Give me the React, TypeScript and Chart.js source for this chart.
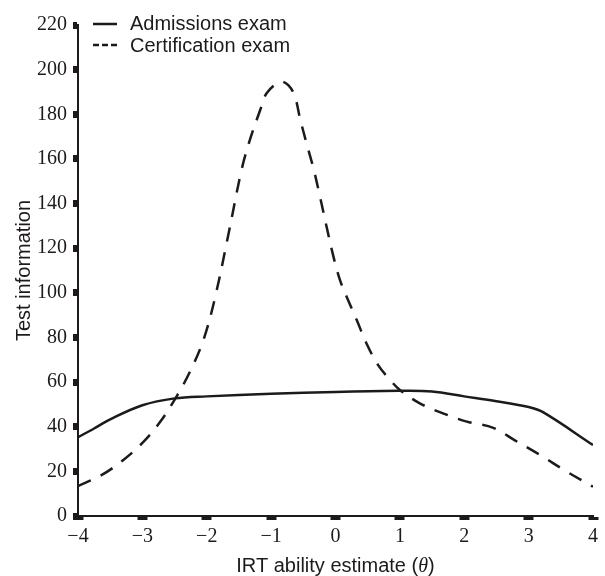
import React, { useEffect, useRef } from 'react';
import { Chart, registerables } from 'chart.js';

Chart.register(...registerables);

// ---- data ----
const seriesLabels = ['Admissions exam', 'Certification exam'];

const admissionsTheta = [-4, -3.75, -3.5, -3, -2.5, -2, -1, 0, 1, 1.5, 2, 2.5, 3, 3.23, 4];
const admissionsInfo = [35.3, 39.2, 43.3, 49.6, 52.7, 53.6, 54.8, 55.6, 56.1, 55.8, 53.6, 51.4, 48.8, 46.4, 31.8];

const certificationTheta = [
  -4, -3.63, -3.3, -2.98, -2.72, -2.47, -2.26, -2.05, -1.87, -1.66, -1.46, -1.33, -1.17, -1.07,
  -0.86, -0.73, -0.63, -0.55, -0.45, -0.34, -0.24, -0.14, -0.03, 0.07, 0.17, 0.33, 0.48, 0.66,
  0.85, 1.0, 1.31, 1.67, 2.04, 2.45, 2.78, 3.18, 3.59, 4.0,
];
const certificationInfo = [
  13.4, 18.4, 25, 33.3, 42.3, 53.5, 64.7, 79, 98, 126.7, 155, 168.5, 181.9, 189.4,
  194.6, 193, 187.9, 178, 167, 155.5, 143, 129.8, 116, 105.7, 98.5, 87.8, 77.4, 67.7,
  60.9, 56.5, 50.5, 46, 42.3, 39.5, 34, 27.3, 19.9, 13.1,
];

const xTickValues = [-4, -3, -2, -1, 0, 1, 2, 3, 4];
const xTickLabels = ['\u22124', '\u22123', '\u22122', '\u22121', '0', '1', '2', '3', '4'];
const yTickValues = [0, 20, 40, 60, 80, 100, 120, 140, 160, 180, 200, 220];
const yTickLabels = ['0', '20', '40', '60', '80', '100', '120', '140', '160', '180', '200', '220'];

const xAxisTitleParts = ['IRT ability estimate (', '\u03B8', ')'];
const yAxisTitle = 'Test information';

// ---- styles ----
const INK = '#1e1a1b';
const SANS = '"Liberation Sans", Arial, sans-serif';
const SERIF = '"Liberation Serif", "Times New Roman", serif';

const overlayPlugin = {
  id: 'overlay',
  afterDraw(chart: any) {
    const { ctx, chartArea } = chart;
    ctx.save();
    ctx.fillStyle = INK;
    ctx.strokeStyle = INK;

    // legend
    const dashes = [[], [6, 3]];
    const rows = [
      { lineY: 24, textY: 30 },
      { lineY: 45, textY: 52 },
    ];
    chart.data.datasets.forEach((ds: any, i: number) => {
      const r = rows[i];
      ctx.beginPath();
      ctx.setLineDash(dashes[i]);
      ctx.lineWidth = 2.5;
      ctx.moveTo(chartArea.left + 15, r.lineY);
      ctx.lineTo(chartArea.left + 39, r.lineY);
      ctx.stroke();
      ctx.setLineDash([]);
      ctx.font = `20px ${SANS}`;
      ctx.textAlign = 'left';
      ctx.textBaseline = 'alphabetic';
      ctx.fillText(ds.label, chartArea.left + 52, r.textY);
    });

    // x axis title with italic theta
    const fonts = [`20px ${SANS}`, `italic 20px ${SERIF}`, `20px ${SANS}`];
    const widths = xAxisTitleParts.map((t, i) => {
      ctx.font = fonts[i];
      return ctx.measureText(t).width;
    });
    const total = widths.reduce((a, b) => a + b, 0);
    let x = (chartArea.left + chartArea.right) / 2 - total / 2;
    const y = chartArea.bottom + 56;
    ctx.textAlign = 'left';
    ctx.textBaseline = 'alphabetic';
    xAxisTitleParts.forEach((t, i) => {
      ctx.font = fonts[i];
      ctx.fillText(t, x, y);
      x += widths[i];
    });
    ctx.restore();
  },
};

export default function App() {
  const canvasRef = useRef<HTMLCanvasElement | null>(null);

  useEffect(() => {
    const canvas = canvasRef.current;
    if (!canvas) return;
    const chart = new Chart(canvas, {
      type: 'line',
      data: {
        datasets: [
          {
            label: seriesLabels[0],
            data: admissionsTheta.map((t, i) => ({ x: t, y: admissionsInfo[i] })),
            borderColor: INK,
            borderWidth: 2.5,
            pointRadius: 0,
            fill: false,
            tension: 0.35,
          },
          {
            label: seriesLabels[1],
            data: certificationTheta.map((t, i) => ({ x: t, y: certificationInfo[i] })),
            borderColor: INK,
            borderWidth: 2.5,
            borderDash: [14, 11],
            pointRadius: 0,
            fill: false,
            tension: 0.35,
          },
        ],
      },
      options: {
        responsive: false,
        animation: false,
        layout: { padding: { top: 25, right: 12, left: 0, bottom: 0 } },
        plugins: { legend: { display: false }, tooltip: { enabled: false } },
        scales: {
          x: {
            type: 'linear',
            min: -4,
            max: 4,
            afterBuildTicks: (s: any) => {
              s.ticks = xTickValues.map((v) => ({ value: v }));
            },
            ticks: {
              callback: (v: any) => {
                const k = xTickValues.indexOf(Number(v));
                return k >= 0 ? xTickLabels[k] : '';
              },
              font: { family: SERIF, size: 20 },
              color: INK,
              padding: 5,
              maxRotation: 0,
              autoSkip: false,
            },
            grid: {
              display: true,
              drawOnChartArea: false,
              drawTicks: true,
              tickLength: 4,
              tickWidth: 10,
              tickColor: INK,
            },
            border: { display: true, color: INK, width: 2 },
            afterFit: (s: any) => {
              s.height = 60;
            },
          },
          y: {
            type: 'linear',
            min: 0,
            max: 220,
            afterBuildTicks: (s: any) => {
              s.ticks = yTickValues.map((v) => ({ value: v }));
            },
            ticks: {
              callback: (v: any) => {
                const k = yTickValues.indexOf(Number(v));
                return k >= 0 ? yTickLabels[k] : '';
              },
              font: { family: SERIF, size: 20 },
              color: INK,
              padding: 6,
              autoSkip: false,
            },
            grid: {
              display: true,
              drawOnChartArea: false,
              drawTicks: true,
              tickLength: 5,
              tickWidth: 7,
              tickColor: INK,
            },
            border: { display: true, color: INK, width: 2 },
            title: {
              display: true,
              text: yAxisTitle,
              color: INK,
              font: { family: SANS, size: 20 },
              padding: { top: 12, bottom: 0 },
            },
            afterFit: (s: any) => {
              s.width = 78;
            },
          },
        },
      },
      plugins: [overlayPlugin],
    } as any);
    return () => chart.destroy();
  }, []);

  return (
    <div style={{ position: 'absolute', left: 0, top: 0, width: 605, height: 576, background: '#fff' }}>
      <canvas ref={canvasRef} width={605} height={576} style={{ display: 'block' }} />
    </div>
  );
}
